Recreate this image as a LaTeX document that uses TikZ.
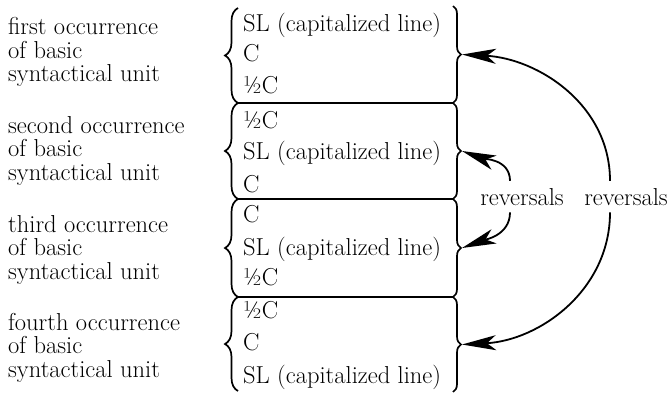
\documentclass[tikz,border=0pt]{standalone}
\usepackage{tikz}
\usetikzlibrary{positioning, calc, arrows.meta, decorations.pathreplacing}

\begin{document}
\begin{tikzpicture}[
        x=1pt, y=1pt,
        every node/.style={font=\fontsize{24.5}{23.5}\selectfont},
        unit_label/.style={anchor=base west, align=left, inner sep=0pt},
        row/.style={anchor=base west, inner sep=0pt},
        rev_label/.style={anchor=base, inner sep=7pt},
        brace_left/.style={decorate, decoration={brace, amplitude=13pt}, line width=1.7pt},
        brace_right/.style={decorate, decoration={brace, amplitude=8pt}, line width=1.7pt},
        divider/.style={line width=1.4pt},
        arrow/.style={-{Stealth[length=34pt, width=15pt, inset=9pt]}, line width=1.8pt}
    ]
        \useasboundingbox (0,0) rectangle (668,-393);

        % --- NODES ---
        % (base of a multi-line node = its last line)
        \node[unit_label] (first) at (8,-82) {first occurrence\\of basic\\syntactical unit};
        \node[unit_label] (second) at (8,-180) {second occurrence\\of basic\\syntactical unit};
        \node[unit_label] (third) at (8,-279) {third occurrence\\of basic\\syntactical unit};
        \node[unit_label] (fourth) at (8,-377) {fourth occurrence\\of basic\\syntactical unit};

        \node[row] (sl_1) at (243,-32) {SL (capitalized line)};
        \node[row] (c_1) at (243,-62) {C};
        \node[row] (half_1) at (243,-93) {½C};
        \node[row] (half_2) at (243,-128) {½C};
        \node[row] (sl_2) at (243,-159) {SL (capitalized line)};
        \node[row] (c_2) at (243,-192) {C};
        \node[row] (c_3) at (243,-222) {C};
        \node[row] (sl_3) at (243,-255) {SL (capitalized line)};
        \node[row] (half_3) at (243,-285) {½C};
        \node[row] (half_4) at (243,-318) {½C};
        \node[row] (c_4) at (243,-350) {C};
        \node[row] (sl_4) at (243,-383) {SL (capitalized line)};

        \node[rev_label] (rev_inner) at (522,-205) {reversals};
        \node[rev_label] (rev_outer) at (626,-205) {reversals};

        % --- BRACES ---
        \draw[brace_left] (238,-103) -- (238,-8);
        \draw[brace_left] (238,-199) -- (238,-103);
        \draw[brace_left] (238,-297) -- (238,-199);
        \draw[brace_left] (238,-391) -- (238,-297);

        \draw[brace_right] (453,-6) -- (453,-103);
        \draw[brace_right] (453,-103) -- (453,-199);
        \draw[brace_right] (453,-199) -- (453,-297);
        \draw[brace_right] (453,-297) -- (453,-392);

        \draw[divider] (238,-103) -- (453,-103);
        \draw[divider] (238,-199) -- (453,-199);
        \draw[divider] (238,-297) -- (453,-297);

        \coordinate (tip_1) at (462,-54.5);
        \coordinate (tip_2) at (462,-151);
        \coordinate (tip_3) at (462,-248);
        \coordinate (tip_4) at (462,-344.5);

        % --- CONNECTIONS ---
        \draw[arrow] ([xshift=-12pt]rev_inner.north) to[out=90, in=-20] (tip_2);
        \draw[arrow] ([xshift=-12pt]rev_inner.south) to[out=-90, in=20] (tip_3);
        \draw[arrow] ([xshift=-16pt]rev_outer.north) to[out=90, in=-3] (tip_1);
        \draw[arrow] ([xshift=-16pt]rev_outer.south) to[out=-90, in=3] (tip_4);

    \end{tikzpicture}
\end{document}
